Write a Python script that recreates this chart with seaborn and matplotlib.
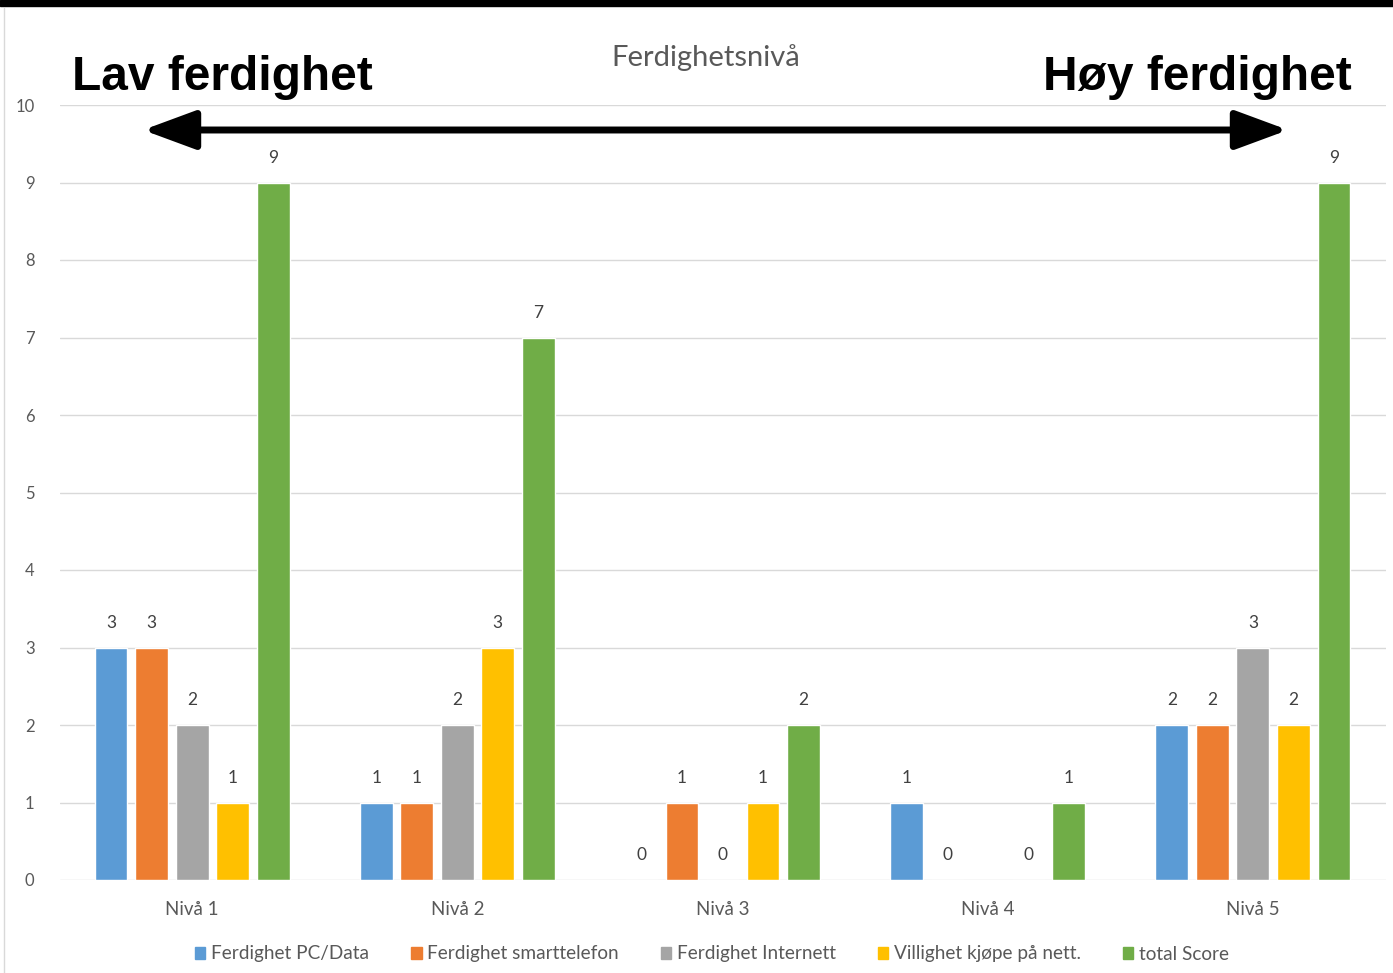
import matplotlib
matplotlib.use("Agg")
import matplotlib.pyplot as plt
import numpy as np
import pandas as pd
import seaborn as sns
from matplotlib.patches import FancyArrowPatch, Rectangle

# data
levels = ["Nivå 1", "Nivå 2", "Nivå 3", "Nivå 4", "Nivå 5"]
series = ["Ferdighet PC/Data", "Ferdighet smarttelefon", "Ferdighet Internett",
          "Villighet kjøpe på nett.", "total Score"]
pc_data = [3, 1, 0, 1, 2]
smarttelefon = [3, 1, 1, 0, 2]
internett = [2, 2, 0, np.nan, 3]
kjope_nett = [1, 3, 1, 0, 2]
total_score = [9, 7, 2, 1, 9]
colors = ["#5B9BD5", "#ED7D31", "#A5A5A5", "#FFC000", "#70AD47"]

rows = []
for name, vals in zip(series, [pc_data, smarttelefon, internett, kjope_nett, total_score]):
    for lvl, v in zip(levels, vals):
        rows.append({"level": lvl, "series": name, "value": v})
df = pd.DataFrame(rows)

sns.set_theme(style="white")
plt.rcParams["font.family"] = ["Lato", "DejaVu Sans"]

W, H = 1393, 973
fig = plt.figure(figsize=(W / 100, H / 100), dpi=100)
ax = fig.add_axes([59.5 / W, 1 - 880 / H, 1326 / W, 775 / H])

sns.barplot(data=df, x="level", y="value", hue="series", order=levels,
            hue_order=series, palette=colors, width=0.764, gap=0.19,
            saturation=1, errorbar=None, ax=ax, legend=False)

for cont in ax.containers:
    labs = ["" if np.isnan(v) else f"{v:g}" for v in cont.datavalues]
    ax.bar_label(cont, labels=labs, padding=12, fontsize=12.5, color="#404040")

ax.set_ylim(0, 10)
ax.set_xlim(-0.5, 4.5)
ax.set_yticks(range(0, 11))
ax.yaxis.grid(True, color="#D9D9D9", linewidth=1)
ax.set_axisbelow(True)
for s in ax.spines.values():
    s.set_visible(False)
ax.set_xlabel("")
ax.set_ylabel("")
ax.tick_params(axis="y", length=0, pad=18, labelsize=12, labelcolor="#595959")
ax.tick_params(axis="x", length=0, pad=15, labelsize=13.5, labelcolor="#595959")

# legend
handles = [plt.Rectangle((0, 0), 1, 1, color=c) for c in colors]
fig.legend(handles, series, loc="center", bbox_to_anchor=(712 / W, 1 - 954 / H),
           ncol=5, frameon=False, fontsize=13.7, handlelength=0.55, handleheight=0.55,
           handletextpad=0.3, columnspacing=2.2, labelcolor="#595959")

fig.text(706 / W, 1 - 58 / H, "Ferdighetsnivå", ha="center", va="center",
         fontsize=21, color="#595959")

fig.text(72 / W, 1 - 78 / H, "Lav ferdighet", ha="left", va="center",
         fontsize=34.5, fontweight="bold", family="Liberation Sans", color="black")
fig.text(1352 / W, 1 - 78 / H, "Høy ferdighet", ha="right", va="center",
         fontsize=34.5, fontweight="bold", family="Liberation Sans", color="black")

arrow = FancyArrowPatch((143 / W, 1 - 130 / H), (1288 / W, 1 - 130 / H),
                        transform=fig.transFigure, shrinkA=0, shrinkB=0,
                        arrowstyle="<|-|>,head_length=2.3,head_width=0.85",
                        linewidth=5, color="black", mutation_scale=14)
fig.patches.append(arrow)

# frame: black band on top, thin grey border on the left
fig.patches.append(Rectangle((0, 1 - 6 / H), 1, 6 / H, transform=fig.transFigure,
                             color="black"))
fig.lines.append(plt.Line2D([3.5 / W, 3.5 / W], [0, 1 - 8 / H],
                            transform=fig.transFigure, color="#D9D9D9", linewidth=1))

fig.savefig("out.png", dpi=100)
